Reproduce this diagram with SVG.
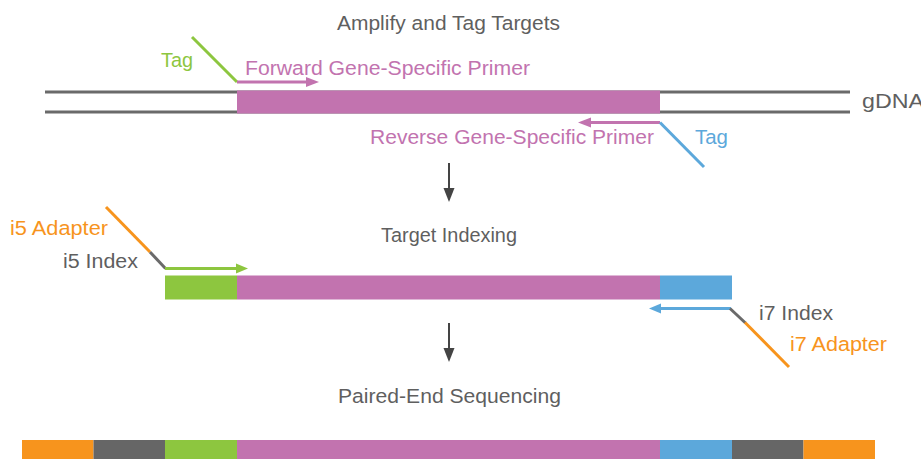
<svg xmlns="http://www.w3.org/2000/svg" width="921" height="459" viewBox="0 0 921 459">
<style>
text{font-family:"Liberation Sans",Arial,sans-serif;font-size:20.5px}
.t{fill:#5f5f5f}
.mg{fill:#C273AF}.gr{fill:#8DC63F}.bl{fill:#5CA8DB}.or{fill:#F7941D}.dk{fill:#666666}
.smg{stroke:#C273AF}.sgr{stroke:#8DC63F}.sbl{stroke:#5CA8DB}.sor{stroke:#F7941D}.sdk{stroke:#6a6a6a}
line{stroke-width:3;fill:none}
</style>
<rect width="921" height="459" fill="#fff"/>
<g id="titles">
<text class="t" x="337" y="30" textLength="223" lengthAdjust="spacingAndGlyphs">Amplify and Tag Targets</text>
<text class="t" x="381" y="242" textLength="136" lengthAdjust="spacingAndGlyphs">Target Indexing</text>
<text class="t" x="338" y="403" textLength="223" lengthAdjust="spacingAndGlyphs">Paired-End Sequencing</text>
</g>
<g id="gdna">
<line x1="45" y1="92" x2="850" y2="92" class="sdk"/>
<line x1="45" y1="112" x2="850" y2="112" class="sdk"/>
<rect x="237" y="90.5" width="423" height="23" class="mg"/>
<text class="t" x="862" y="108" textLength="62" lengthAdjust="spacingAndGlyphs">gDNA</text>
</g>
<g id="forward-primer">
<line x1="192" y1="37" x2="237" y2="82" class="sgr"/>
<line x1="237" y1="82" x2="308" y2="82" class="smg"/>
<polygon points="306,77 319,82 306,87" class="mg"/>
<text class="gr" x="161" y="67" textLength="32" lengthAdjust="spacingAndGlyphs">Tag</text>
<text class="mg" x="245" y="75" textLength="285" lengthAdjust="spacingAndGlyphs">Forward Gene-Specific Primer</text>
</g>
<g id="reverse-primer">
<line x1="660" y1="122.5" x2="589" y2="122.5" class="smg"/>
<polygon points="591,117.5 578,122.5 591,127.5" class="mg"/>
<line x1="660" y1="122.5" x2="704" y2="167" class="sbl"/>
<text class="mg" x="370" y="144" textLength="284" lengthAdjust="spacingAndGlyphs">Reverse Gene-Specific Primer</text>
<text class="bl" x="695" y="144" textLength="33" lengthAdjust="spacingAndGlyphs">Tag</text>
</g>
<g id="connectors">
<line x1="449" y1="163" x2="449" y2="190" stroke="#444" style="stroke-width:2"/>
<polygon points="443.5,188 454.5,188 449,202" fill="#444"/>
<line x1="449" y1="323" x2="449" y2="350" stroke="#444" style="stroke-width:2"/>
<polygon points="443.5,348 454.5,348 449,362" fill="#444"/>
</g>
<g id="indexed-target">
<rect x="165" y="275.5" width="72" height="24" class="gr"/>
<rect x="237" y="275.5" width="423" height="24" class="mg"/>
<rect x="660" y="275.5" width="72" height="24" class="bl"/>
</g>
<g id="i5">
<line x1="106" y1="207" x2="150" y2="252" class="sor"/>
<line x1="150" y1="252" x2="165.5" y2="268.5" class="sdk"/>
<line x1="165" y1="268.5" x2="237" y2="268.5" class="sgr"/>
<polygon points="236,263.5 248,268.5 236,273.5" class="gr"/>
<text class="or" x="10" y="235" textLength="98" lengthAdjust="spacingAndGlyphs">i5 Adapter</text>
<text class="t" x="63" y="268" textLength="75" lengthAdjust="spacingAndGlyphs">i5 Index</text>
</g>
<g id="i7">
<line x1="731" y1="308.5" x2="660" y2="308.5" class="sbl"/>
<polygon points="661,303.5 649,308.5 661,313.5" class="bl"/>
<line x1="730" y1="308.5" x2="745.5" y2="323" class="sdk"/>
<line x1="745" y1="322.5" x2="789" y2="367" class="sor"/>
<text class="t" x="759" y="320" textLength="74" lengthAdjust="spacingAndGlyphs">i7 Index</text>
<text class="or" x="790" y="351" textLength="97" lengthAdjust="spacingAndGlyphs">i7 Adapter</text>
</g>
<g id="sequencing-read">
<rect x="22" y="440" width="71.5" height="19" class="or"/>
<rect x="93.5" y="440" width="71.5" height="19" class="dk"/>
<rect x="165" y="440" width="72" height="19" class="gr"/>
<rect x="237" y="440" width="423" height="19" class="mg"/>
<rect x="660" y="440" width="72" height="19" class="bl"/>
<rect x="732" y="440" width="71.5" height="19" class="dk"/>
<rect x="803.5" y="440" width="71.5" height="19" class="or"/>
</g>
</svg>
